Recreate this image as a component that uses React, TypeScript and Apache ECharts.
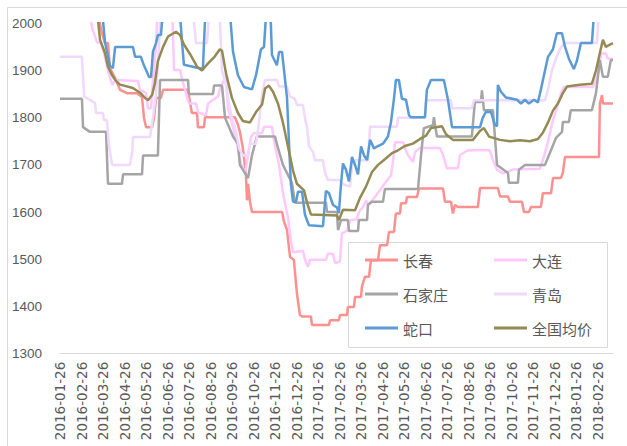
import React, { useEffect, useRef } from 'react';
import * as echarts from 'echarts';

// x values are months counted from 2016-01-26 (0 = 2016-01-26, 1 = 2016-02-26, ...)
const tickLabels = [
  '2016-01-26', '2016-02-26', '2016-03-26', '2016-04-26', '2016-05-26', '2016-06-26',
  '2016-07-26', '2016-08-26', '2016-09-26', '2016-10-26', '2016-11-26', '2016-12-26',
  '2017-01-26', '2017-02-26', '2017-03-26', '2017-04-26', '2017-05-26', '2017-06-26',
  '2017-07-26', '2017-08-26', '2017-09-26', '2017-10-26', '2017-11-26', '2017-12-26',
  '2018-01-26', '2018-02-26',
];
const xMax = 25.7;
const yTicks = { min: 1300, max: 2000, step: 100 };

const seriesNames = ['长春', '大连', '石家庄', '青岛', '蛇口', '全国均价'];
const seriesColors = ['#FF9090', '#FFC8FF', '#A5A5A5', '#F0D8FF', '#5B9BD5', '#948A54'];

const changchun = [
  [1.63, 2050], [1.95, 1979], [2.09, 1958], [2.23, 1958], [2.32, 1905], [2.56, 1884], [2.79, 1859], [3.11, 1852], [3.58, 1852], [3.81, 1844], [3.9, 1800], [4.0, 1780], [4.28, 1780], [4.37, 1800], [4.46, 1842], [4.69, 1842], [4.79, 1859], [5.95, 1859], [6.04, 1833], [6.13, 1810], [6.37, 1810], [6.41, 1780], [6.69, 1780], [6.74, 1801], [8.13, 1801], [8.27, 1785], [8.36, 1770], [8.5, 1735], [8.64, 1680], [8.69, 1625], [8.74, 1660], [8.83, 1622], [8.92, 1600], [10.32, 1600], [10.41, 1580], [10.55, 1562], [10.69, 1505], [10.87, 1499], [11.01, 1428], [11.15, 1382], [11.25, 1379], [11.66, 1379], [11.71, 1361], [12.5, 1361], [12.55, 1371], [12.96, 1371], [13.01, 1382], [13.34, 1382], [13.38, 1399], [13.66, 1399], [13.71, 1420], [13.99, 1420], [14.03, 1442], [14.17, 1463], [14.36, 1463], [14.45, 1498], [14.78, 1498], [14.87, 1530], [15.2, 1530], [15.29, 1558], [15.52, 1558], [15.61, 1597], [15.8, 1597], [15.85, 1619], [16.08, 1619], [16.12, 1632], [16.59, 1632], [16.68, 1650], [17.8, 1650], [17.89, 1622], [18.17, 1622], [18.26, 1597], [18.35, 1615], [18.49, 1611], [19.42, 1611], [19.52, 1651], [20.35, 1651], [20.45, 1633], [20.82, 1633], [20.91, 1622], [21.47, 1622], [21.56, 1600], [21.79, 1600], [21.89, 1611], [22.35, 1611], [22.44, 1640], [22.82, 1640], [22.91, 1672], [23.28, 1672], [23.37, 1683], [23.47, 1717], [25.05, 1717], [25.09, 1830], [25.19, 1848], [25.23, 1830], [25.7, 1830],
];

const dalian = [
  [1.3, 2050], [1.49, 1990], [1.72, 1960], [1.91, 1958], [2.04, 1937], [2.23, 1900], [2.42, 1870], [2.6, 1880], [3.62, 1878], [3.72, 1859], [4.0, 1852], [4.09, 1820], [4.23, 1820], [4.32, 1880], [4.46, 1950], [4.55, 2050], [5.2, 2050], [5.3, 1901], [5.58, 1901], [5.72, 1873], [5.9, 1845], [5.99, 1830], [6.32, 1830], [6.41, 1812], [6.78, 1805], [6.88, 1830], [7.34, 1845], [7.48, 1868], [7.71, 1886], [7.81, 1820], [8.04, 1780], [8.27, 1735], [8.41, 1703], [8.6, 1682], [8.74, 1720], [8.88, 1760], [9.01, 1767], [9.39, 1767], [9.48, 1781], [9.85, 1781], [9.99, 1740], [10.18, 1700], [10.36, 1640], [10.59, 1590], [10.73, 1540], [10.83, 1515], [11.29, 1518], [11.38, 1500], [11.52, 1484], [11.62, 1499], [12.36, 1499], [12.45, 1512], [12.69, 1512], [12.78, 1492], [13.01, 1495], [13.1, 1555], [13.34, 1560], [13.48, 1583], [13.8, 1585], [13.89, 1600], [14.08, 1611], [14.22, 1625], [14.31, 1615], [14.64, 1632], [15.1, 1661], [15.38, 1678], [15.47, 1706], [15.57, 1748], [15.94, 1748], [16.03, 1736], [16.17, 1721], [16.4, 1706], [16.5, 1727], [16.73, 1736], [17.66, 1736], [17.8, 1721], [17.98, 1693], [18.49, 1693], [18.59, 1721], [18.96, 1731], [19.98, 1731], [20.12, 1710], [20.31, 1690], [20.58, 1682], [21.05, 1690], [22.3, 1692], [22.44, 1710], [22.63, 1740], [22.77, 1767], [22.91, 1795], [23.09, 1820], [23.28, 1851], [23.42, 1865], [24.77, 1865], [24.91, 1880], [25.05, 1901], [25.14, 1936], [25.37, 1936], [25.46, 1925], [25.7, 1925],
];

const shijiazhuang = [
  [0, 1840], [1.02, 1840], [1.07, 1780], [1.39, 1770], [2.14, 1770], [2.23, 1660], [2.88, 1660], [2.93, 1680], [3.81, 1680], [3.86, 1720], [4.55, 1720], [4.65, 1880], [5.95, 1880], [5.99, 1850], [7.11, 1850], [7.16, 1868], [7.53, 1868], [7.67, 1800], [7.81, 1785], [8.04, 1760], [8.27, 1745], [8.36, 1700], [8.74, 1672], [8.92, 1720], [9.15, 1760], [9.99, 1760], [10.13, 1736], [10.36, 1700], [10.78, 1662], [10.92, 1620], [12.36, 1620], [12.41, 1600], [12.87, 1600], [12.92, 1562], [13.06, 1583], [13.38, 1583], [13.43, 1560], [13.85, 1560], [13.89, 1583], [14.27, 1583], [14.31, 1615], [14.5, 1622], [15.01, 1622], [15.1, 1649], [16.64, 1649], [16.78, 1721], [16.91, 1778], [17.33, 1784], [17.38, 1801], [17.43, 1784], [17.52, 1760], [19.14, 1760], [19.28, 1833], [19.56, 1833], [19.61, 1858], [19.7, 1816], [20.12, 1816], [20.31, 1700], [20.82, 1683], [20.86, 1662], [21.28, 1662], [21.33, 1690], [21.61, 1700], [22.54, 1700], [22.86, 1736], [23.05, 1757], [23.33, 1770], [23.37, 1791], [23.65, 1791], [23.74, 1816], [24.72, 1816], [24.91, 1852], [25.09, 1922], [25.23, 1887], [25.46, 1887], [25.6, 1922], [25.7, 1922],
];

const qingdao = [
  [0, 1929], [1.02, 1929], [1.12, 1845], [1.63, 1831], [1.67, 1810], [2.0, 1810], [2.04, 1795], [2.18, 1795], [2.28, 1740], [2.42, 1700], [3.25, 1700], [3.35, 1724], [3.39, 1759], [4.18, 1759], [4.32, 1800], [4.46, 1850], [4.6, 1950], [4.69, 2050], [6.13, 2050], [6.32, 1958], [6.83, 1958], [6.97, 2050], [7.39, 2050], [7.53, 1900], [7.71, 1870], [7.85, 1830], [7.99, 1800], [8.18, 1770], [8.32, 1735], [8.5, 1720], [8.74, 1720], [8.83, 1745], [9.11, 1745], [9.25, 1790], [9.39, 1850], [9.53, 1880], [10.08, 1880], [10.18, 1866], [10.55, 1866], [10.69, 1845], [10.92, 1840], [11.01, 1827], [11.29, 1827], [11.38, 1800], [11.48, 1780], [11.57, 1740], [11.76, 1727], [11.85, 1710], [12.22, 1710], [12.31, 1685], [12.45, 1668], [13.01, 1668], [13.1, 1660], [13.48, 1654], [13.57, 1700], [13.75, 1710], [14.31, 1710], [14.41, 1781], [15.66, 1781], [15.71, 1800], [16.96, 1800], [17.01, 1837], [18.17, 1837], [18.22, 1820], [19.14, 1820], [19.24, 1837], [22.54, 1837], [22.68, 1860], [22.86, 1900], [23.05, 1925], [23.23, 1945], [23.42, 1958], [24.95, 1958], [25.09, 2050], [25.7, 2050],
];

const shekou = [
  [1.91, 2050], [2.09, 1960], [2.32, 1910], [2.46, 1905], [2.56, 1950], [3.39, 1950], [3.49, 1929], [3.76, 1929], [3.9, 1911], [4.04, 1897], [4.14, 1886], [4.23, 1886], [4.32, 1940], [4.46, 1958], [4.55, 1975], [4.69, 1975], [4.83, 2050], [5.53, 2050], [5.67, 1960], [5.76, 1912], [6.64, 1903], [6.78, 2050], [7.85, 2050], [8.04, 1940], [8.27, 1890], [8.55, 1865], [8.92, 1860], [9.11, 1890], [9.34, 1945], [9.48, 1950], [9.62, 2050], [9.76, 2050], [9.85, 1933], [10.08, 1911], [10.18, 1939], [10.32, 1939], [10.46, 1880], [10.55, 1842], [10.64, 1750], [10.73, 1660], [10.83, 1622], [10.97, 1622], [11.06, 1643], [11.25, 1643], [11.38, 1595], [11.57, 1572], [12.22, 1570], [12.36, 1645], [12.5, 1640], [12.69, 1615], [12.87, 1610], [12.96, 1598], [13.06, 1660], [13.15, 1703], [13.29, 1690], [13.43, 1665], [13.57, 1717], [13.71, 1700], [13.85, 1680], [13.99, 1739], [14.13, 1720], [14.27, 1710], [14.41, 1753], [14.59, 1735], [14.78, 1740], [15.01, 1745], [15.24, 1760], [15.38, 1790], [15.52, 1840], [15.61, 1880], [15.75, 1880], [15.89, 1840], [16.08, 1838], [16.22, 1805], [16.31, 1801], [16.96, 1801], [17.05, 1859], [17.24, 1880], [17.84, 1880], [18.03, 1838], [18.22, 1780], [19.52, 1780], [19.65, 1800], [19.79, 1812], [20.03, 1812], [20.21, 1785], [20.31, 1782], [20.35, 1869], [20.49, 1855], [20.72, 1843], [21.24, 1838], [21.42, 1830], [21.61, 1838], [21.79, 1830], [22.03, 1838], [22.21, 1832], [22.35, 1860], [22.54, 1900], [22.68, 1929], [22.91, 1945], [23.09, 1979], [23.33, 1979], [23.47, 1950], [23.65, 1925], [23.88, 1903], [24.02, 1920], [24.21, 1958], [24.72, 1958], [24.86, 2050], [25.7, 2050],
];

const nationalAvg = [
  [1.67, 2050], [1.86, 1965], [2.09, 1937], [2.23, 1908], [2.42, 1890], [2.6, 1878], [2.79, 1870], [3.39, 1863], [3.72, 1853], [3.95, 1842], [4.09, 1837], [4.28, 1848], [4.41, 1873], [4.55, 1920], [4.79, 1950], [5.02, 1972], [5.39, 1982], [5.58, 1975], [5.76, 1955], [6.04, 1935], [6.37, 1908], [6.6, 1900], [6.88, 1915], [7.2, 1930], [7.43, 1945], [7.53, 1942], [7.71, 1895], [7.99, 1842], [8.27, 1810], [8.5, 1793], [8.83, 1790], [9.11, 1812], [9.39, 1828], [9.53, 1862], [9.71, 1868], [9.9, 1855], [10.13, 1830], [10.36, 1790], [10.59, 1740], [10.83, 1688], [11.01, 1660], [11.34, 1646], [11.48, 1620], [11.66, 1595], [12.87, 1593], [12.96, 1583], [13.15, 1605], [13.71, 1604], [13.94, 1630], [14.22, 1654], [14.5, 1685], [14.78, 1700], [15.1, 1712], [15.43, 1725], [15.71, 1731], [16.03, 1740], [16.4, 1745], [16.73, 1755], [17.01, 1762], [17.24, 1778], [17.75, 1782], [17.94, 1765], [18.26, 1753], [19.19, 1753], [19.52, 1772], [19.7, 1778], [19.94, 1760], [20.45, 1753], [20.91, 1750], [21.38, 1752], [21.84, 1750], [22.21, 1755], [22.44, 1768], [22.68, 1790], [22.91, 1815], [23.14, 1830], [23.37, 1852], [23.56, 1866], [24.16, 1870], [24.72, 1872], [24.91, 1900], [25.09, 1937], [25.23, 1965], [25.37, 1950], [25.56, 1955], [25.7, 1958],
];

const seriesData = [changchun, dalian, shijiazhuang, qingdao, shekou, nationalAvg];

export default function App() {
  const ref = useRef<HTMLDivElement>(null);

  useEffect(() => {
    const chart = echarts.init(ref.current as HTMLDivElement, null, { renderer: 'svg' });
    const legendText = {
      color: '#595959',
      fontSize: 15,
      lineHeight: 17,
      fontFamily: '"Noto Sans CJK SC", "Noto Sans", sans-serif',
    };
    chart.setOption({
      animation: false,
      backgroundColor: '#ffffff',
      grid: { left: 60, right: 14, top: 23.3, bottom: 92.3, containLabel: false },
      xAxis: {
        type: 'value',
        min: 0,
        max: xMax,
        interval: 1,
        axisLine: { show: true, onZero: false, lineStyle: { color: '#D9D9D9', width: 1 } },
        axisTick: { show: false },
        splitLine: { show: false },
        axisLabel: {
          rotate: 90,
          margin: 8,
          showMaxLabel: false,
          color: '#595959',
          fontSize: 13.5,
          fontFamily: '"DejaVu Sans", sans-serif',
          formatter: (v: number) => (Number.isInteger(v) && tickLabels[v] ? tickLabels[v] : ''),
        },
      },
      yAxis: {
        type: 'value',
        min: yTicks.min,
        max: yTicks.max,
        interval: yTicks.step,
        axisLine: { show: false },
        axisTick: { show: false },
        splitLine: { show: false },
        axisLabel: {
          margin: 18,
          color: '#595959',
          fontSize: 13.5,
          fontFamily: '"Liberation Sans", sans-serif',
          formatter: (v: number) => String(v),
        },
      },
      legend: [
        {
          data: [seriesNames[0], seriesNames[2], seriesNames[4]],
          orient: 'vertical',
          left: 365,
          top: 251.5,
          padding: 0,
          itemGap: 17,
          itemWidth: 33,
          itemHeight: 3,
          icon: 'rect',
          textStyle: legendText,
        },
        {
          data: [seriesNames[1], seriesNames[3], seriesNames[5]],
          orient: 'vertical',
          left: 494,
          top: 251.5,
          padding: 0,
          itemGap: 17,
          itemWidth: 33,
          itemHeight: 3,
          icon: 'rect',
          textStyle: legendText,
        },
      ],
      graphic: [
        {
          type: 'rect',
          silent: true,
          shape: { x: 7.5, y: 7.5, width: 640, height: 460 },
          style: { fill: 'none', stroke: '#D9D9D9', lineWidth: 1 },
          z: -10,
        },
        {
          type: 'rect',
          silent: true,
          shape: { x: 348.5, y: 242.5, width: 259, height: 105 },
          style: { fill: 'none', stroke: '#D9D9D9', lineWidth: 1 },
          z: -1,
        },
      ],
      series: seriesNames.map((name, i) => ({
        name,
        type: 'line',
        data: seriesData[i],
        showSymbol: false,
        symbol: 'none',
        clip: true,
        color: seriesColors[i],
        lineStyle: { color: seriesColors[i], width: 2.5 },
        z: 2 + i,
      })),
    });
    return () => chart.dispose();
  }, []);

  return (
    <div
      ref={ref}
      style={{ position: 'absolute', left: 0, top: 0, width: 627, height: 446, background: '#fff' }}
    />
  );
}
